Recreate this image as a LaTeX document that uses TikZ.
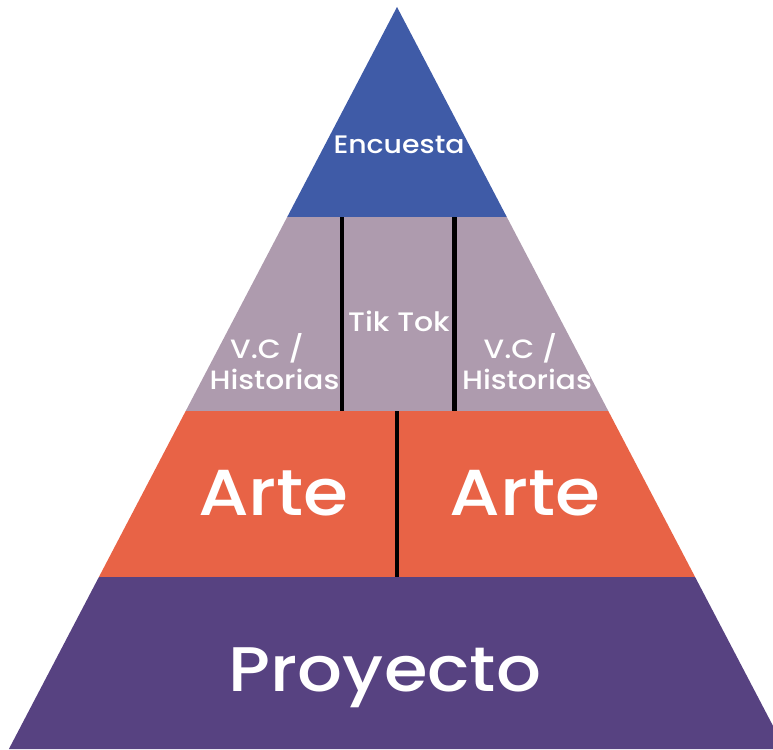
\documentclass[tikz,border=0pt]{standalone}
\usepackage{fontspec}
\setmainfont{Poppins}[UprightFont=* Medium, FakeStretch=1.12]
\usepackage{xcolor}
\usepackage{tikz}
\definecolor{topblue}{HTML}{3F5BA7}
\definecolor{midgray}{HTML}{AE9BAE}
\definecolor{artorange}{HTML}{E86346}
\definecolor{basepurple}{HTML}{574281}
\tikzset{
    band/.style = {draw=none},
    divider/.style = {draw=black, line width=4.5pt},
    label/.style = {text=white, inner sep=0pt, align=center}
}

\begin{document}
\begin{tikzpicture}[x=1pt, y=-1pt]
    \useasboundingbox (0,0) rectangle (773,749);

    \begin{scope}
        \clip (0,0) rectangle (773,749);
        \fill [band, topblue] (397,7) -- (506.8,217) -- (287.2,217) -- cycle;
        \fill [band, midgray] (287.2,217) -- (506.8,217) -- (608.3,411) -- (185.7,411) -- cycle;
        \fill [band, artorange] (185.7,411) -- (608.3,411) -- (695.1,577) -- (98.9,577) -- cycle;
        \fill [band, basepurple] (98.9,577) -- (695.1,577) -- (785.1,749) -- (8.9,749) -- cycle;
    \end{scope}

    \coordinate (vl top) at (342,217);
    \coordinate (vl bot) at (342,411);
    \coordinate (vr top) at (454.5,217);
    \coordinate (vr bot) at (454.5,411);
    \coordinate (art top) at (397,411);
    \coordinate (art bot) at (397,577);
    \draw [divider] (vl top) -- (vl bot);
    \draw [divider] (vr top) -- (vr bot);
    \draw [divider] (art top) -- (art bot);

    \node (encuesta) [label, anchor=base, font=\fontsize{25.3}{30}\selectfont] at (399,153.3) {Encuesta};
    \node (tiktok) [label, anchor=base, font=\fontsize{26.7}{31}\selectfont] at (399,331.7) {Tik Tok};
    \node (vc left) [label, anchor=south, font=\fontsize{26.5}{31}\selectfont] at (274.5,390) {V.C /\hspace*{15pt}\\Historias};
    \node (vc right) [label, anchor=south, font=\fontsize{26.5}{31}\selectfont] at (527,390) {V.C /\hspace*{13pt}\\Historias};
    \node (arte left) [label, anchor=base, font=\fontsize{65}{72}\selectfont] at (273.5,515) {Arte};
    \node (arte right) [label, anchor=base, font=\fontsize{65}{72}\selectfont] at (525,515) {Arte};
    \node (proyecto) [label, anchor=base, font=\fontsize{63}{72}\selectfont] at (385,691.7) {Proyecto};
\end{tikzpicture}
\end{document}
